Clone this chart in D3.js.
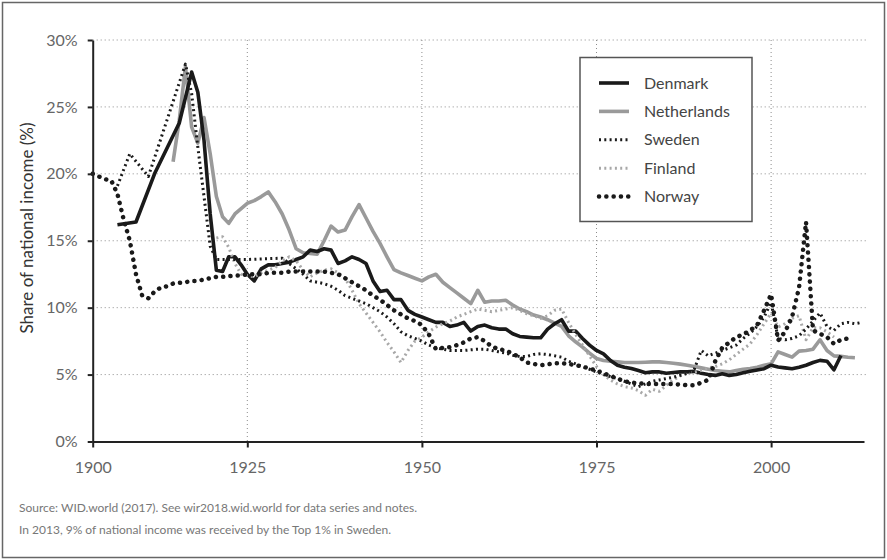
<!DOCTYPE html>
<html>
<head>
<meta charset="utf-8">
<script src="https://cdn.jsdelivr.net/npm/d3@7"></script>
<style>
  html, body { margin: 0; padding: 0; background: #fff; }
  svg { display: block; font-family: Lato, "Open Sans", sans-serif; }
</style>
</head>
<body>
<svg id="chart" width="887" height="560"></svg>
<script>
// Top 1% income share, Nordic countries and the Netherlands (% of national income)
const denmarkYears = [1904,1907,1910,1914,1916,1917,1918,1919,1920,1921,1922,1923,1924,1925,1926,1927,1928,1929,1930,1931,1932,1933,1934,1935,1936,1937,1938,1939,1940,1941,1942,1943,1944,1945,1946,1947,1948,1949,1950,1951,1952,1953,1954,1955,1956,1957,1958,1959,1960,1961,1962,1963,1964,1965,1966,1967,1968,1969,1970,1971,1972,1973,1974,1975,1976,1977,1978,1979,1980,1981,1982,1983,1984,1985,1986,1987,1988,1989,1990,1991,1992,1993,1994,1995,1996,1997,1998,1999,2000,2001,2002,2003,2004,2005,2006,2007,2008,2009,2010];
const denmarkShare = [16.2,16.4,20.0,23.8,27.6,26.1,22.5,17.0,12.8,12.7,13.8,13.8,13.2,12.5,12.0,12.9,13.2,13.2,13.3,13.4,13.6,13.8,14.3,14.2,14.4,14.3,13.3,13.5,13.8,13.6,13.3,12.0,11.2,11.3,10.6,10.6,9.8,9.5,9.3,9.1,8.9,8.9,8.6,8.7,8.9,8.25,8.6,8.7,8.5,8.4,8.4,8.05,7.85,7.8,7.75,7.75,8.4,8.8,9.1,8.25,8.25,7.7,7.2,6.8,6.55,6.05,5.7,5.55,5.45,5.3,5.14,5.2,5.2,5.1,5.15,5.2,5.2,5.24,5.1,5.0,4.94,5.06,4.94,5.0,5.14,5.25,5.35,5.44,5.7,5.57,5.5,5.44,5.55,5.7,5.9,6.06,6.0,5.36,6.43];

const netherlandsYears = [1913,1914,1915,1916,1917,1918,1919,1920,1921,1922,1923,1924,1925,1926,1927,1928,1929,1930,1931,1932,1933,1934,1935,1936,1937,1938,1939,1940,1941,1942,1943,1944,1945,1946,1947,1948,1949,1950,1951,1952,1953,1954,1955,1956,1957,1958,1959,1960,1961,1962,1963,1964,1965,1966,1967,1968,1969,1970,1971,1972,1973,1974,1975,1976,1977,1978,1979,1980,1981,1982,1983,1984,1985,1986,1987,1988,1989,1990,1991,1992,1993,1994,1995,1996,1997,1998,1999,2000,2001,2002,2003,2004,2005,2006,2007,2008,2009,2010,2011,2012];
const netherlandsShare = [20.9,24.0,28.0,23.5,22.3,24.2,21.5,18.3,16.8,16.3,17.0,17.4,17.8,18.0,18.3,18.65,17.9,17.0,15.8,14.4,14.1,14.05,14.0,15.0,16.1,15.65,15.8,16.8,17.7,16.7,15.7,14.8,13.8,12.85,12.6,12.4,12.2,12.0,12.3,12.5,11.9,11.5,11.1,10.7,10.3,11.3,10.4,10.5,10.5,10.55,10.2,9.9,9.7,9.45,9.3,9.1,8.85,8.6,7.9,7.45,7.05,6.6,6.2,6.05,6.0,5.95,5.9,5.9,5.9,5.92,5.95,5.95,5.9,5.85,5.78,5.7,5.6,5.5,5.4,5.3,5.25,5.2,5.3,5.4,5.45,5.55,5.7,5.8,6.7,6.5,6.3,6.75,6.8,6.9,7.6,6.8,6.4,6.36,6.3,6.26];

const swedenYears = [1904,1906,1909,1915,1916,1917,1918,1919,1920,1925,1930,1931,1932,1933,1934,1935,1936,1937,1938,1939,1940,1941,1942,1943,1944,1945,1946,1947,1948,1949,1950,1951,1952,1953,1954,1955,1956,1957,1958,1959,1960,1961,1962,1963,1964,1965,1966,1967,1968,1969,1970,1971,1972,1973,1974,1975,1976,1977,1978,1979,1980,1981,1982,1983,1984,1985,1986,1987,1988,1989,1990,1991,1992,1993,1994,1995,1996,1997,1998,1999,2000,2001,2002,2003,2004,2005,2006,2007,2008,2009,2010,2011,2012,2013];
const swedenShare = [19.1,21.5,19.8,28.2,26.0,22.0,18.3,14.6,13.6,13.6,13.7,13.3,12.9,12.5,12.0,11.9,11.8,11.6,11.3,10.9,10.7,10.5,10.3,10.0,9.7,9.3,8.8,8.2,7.9,7.7,7.5,7.2,7.0,6.9,6.8,6.8,6.8,6.85,6.9,6.9,6.8,6.7,6.6,6.45,6.35,6.35,6.5,6.55,6.5,6.4,6.3,6.0,5.8,5.6,5.4,5.2,5.0,4.85,4.7,4.5,4.3,4.1,4.3,4.5,4.6,4.7,4.8,4.95,5.1,5.4,6.8,6.4,6.6,6.8,7.0,7.2,7.7,8.1,8.6,9.3,10.4,7.7,7.6,7.7,7.9,8.4,9.0,9.6,8.6,8.3,8.8,8.9,8.8,8.9];

const finlandYears = [1920,1921,1922,1923,1924,1925,1926,1927,1928,1929,1930,1931,1932,1933,1934,1935,1936,1937,1938,1939,1940,1941,1942,1943,1944,1945,1946,1947,1948,1949,1950,1951,1952,1953,1954,1955,1956,1957,1958,1959,1960,1961,1962,1963,1964,1965,1966,1967,1968,1969,1970,1971,1972,1973,1974,1975,1976,1977,1978,1979,1980,1981,1982,1983,1984,1985,1986,1987,1988,1989,1990,1991,1992,1993,1994,1995,1996,1997,1998,1999,2000,2001,2002,2003,2004,2005,2006,2007,2008,2009];
const finlandShare = [15.2,15.3,14.5,13.3,12.5,12.4,12.3,12.6,12.8,13.0,13.5,13.8,13.5,12.8,12.3,12.6,12.8,12.9,12.6,12.2,11.3,10.3,9.6,8.9,8.2,7.4,6.7,5.9,6.8,7.5,7.8,8.2,8.55,8.8,9.0,9.3,9.5,9.7,9.9,9.8,9.7,9.8,9.9,10.0,9.8,9.55,9.4,9.2,9.4,9.8,9.9,8.9,8.0,7.2,6.4,5.6,5.0,4.6,4.3,4.1,4.0,3.8,3.45,3.9,3.75,4.2,4.6,4.9,5.1,5.2,5.3,5.5,5.6,5.8,6.1,6.5,6.9,7.3,8.0,8.8,9.6,8.55,8.8,9.2,9.4,7.6,8.5,8.5,8.2,7.8];

const norwayYears = [1900,1901,1902,1903,1904,1905,1906,1907,1908,1909,1910,1911,1912,1913,1914,1915,1916,1917,1918,1919,1920,1921,1922,1923,1924,1925,1926,1927,1928,1929,1930,1931,1932,1933,1934,1935,1936,1937,1938,1939,1940,1941,1942,1943,1944,1945,1946,1947,1948,1949,1950,1951,1952,1953,1954,1955,1956,1957,1958,1959,1960,1961,1962,1963,1964,1965,1966,1967,1968,1969,1970,1971,1972,1973,1974,1975,1976,1977,1978,1979,1980,1981,1982,1983,1984,1985,1986,1987,1988,1989,1990,1991,1992,1993,1994,1995,1996,1997,1998,1999,2000,2001,2002,2003,2004,2005,2006,2007,2008,2009,2010,2011];
const norwayShare = [20.0,19.8,19.6,19.5,18.5,16.6,15.0,12.5,10.9,10.7,11.2,11.5,11.6,11.8,11.85,11.9,12.0,12.0,12.1,12.2,12.3,12.3,12.35,12.4,12.4,12.5,12.5,12.5,12.6,12.6,12.6,12.7,12.7,12.7,12.7,12.7,12.7,12.6,12.5,12.2,11.9,11.6,11.3,10.9,10.6,10.2,9.8,9.5,9.2,9.0,8.7,8.0,6.9,7.0,7.05,7.2,7.4,7.7,7.8,7.5,7.1,6.9,6.8,6.55,6.3,5.9,5.8,5.7,5.76,5.85,5.85,5.8,5.7,5.6,5.45,5.3,5.1,4.9,4.7,4.5,4.4,4.35,4.3,4.3,4.3,4.3,4.3,4.25,4.2,4.2,4.4,4.6,6.0,7.0,7.4,7.8,8.0,8.3,8.7,9.8,11.0,7.55,8.2,9.3,11.5,16.4,8.3,8.05,7.8,7.3,7.6,7.7];

const yTicks = [0, 5, 10, 15, 20, 25, 30];
const xTicks = [1900, 1925, 1950, 1975, 2000];
const gridYears = [1925, 1950, 1975, 2000];

const series = [
  { name: "Netherlands", years: netherlandsYears, values: netherlandsShare, color: "#9a9a9a", width: 3.6, dash: null, cap: "butt" },
  { name: "Denmark", years: denmarkYears, values: denmarkShare, color: "#1a1a1a", width: 3.6, dash: null, cap: "butt" },
  { name: "Finland", years: finlandYears, values: finlandShare, color: "#a8a8a8", width: 3, dash: "2,3.3", cap: "butt" },
  { name: "Sweden", years: swedenYears, values: swedenShare, color: "#1a1a1a", width: 3, dash: "2,3.3", cap: "butt" },
  { name: "Norway", years: norwayYears, values: norwayShare, color: "#1a1a1a", width: 4.5, dash: "0.1,7.2", cap: "round" }
];
const legendOrder = ["Denmark", "Netherlands", "Sweden", "Finland", "Norway"];

const svg = d3.select("#chart");

// outer frame
svg.append("rect")
  .attr("x", 2.5).attr("y", 2.5).attr("width", 882).attr("height", 555)
  .attr("fill", "#fff").attr("stroke", "#666").attr("stroke-width", 1.5);

// the early decades are compressed on the time axis
const x = d3.scaleLinear().domain([1900, 1925, 2013.3]).range([92.7, 247.3, 864]);
const y = d3.scaleLinear().domain([0, 30]).range([441.5, 40]);

// dotted grid
const grid = svg.append("g").attr("stroke", "#8c8c8c").attr("stroke-width", 1).attr("stroke-dasharray", "1,3");
grid.selectAll("line.h").data(yTicks.filter(d => d > 0)).join("line")
  .attr("class", "h")
  .attr("x1", x(1900)).attr("x2", 866)
  .attr("y1", d => y(d)).attr("y2", d => y(d));
grid.selectAll("line.v").data(gridYears).join("line")
  .attr("class", "v")
  .attr("x1", d => x(d)).attr("x2", d => x(d))
  .attr("y1", y(30)).attr("y2", y(0));

// series lines
const line = d3.line()
  .x(d => x(d[0]))
  .y(d => y(d[1]));

svg.append("g").selectAll("path").data(series).join("path")
  .attr("d", s => line(s.years.map((yr, i) => [yr, s.values[i]])))
  .attr("fill", "none")
  .attr("stroke", s => s.color)
  .attr("stroke-width", s => s.width)
  .attr("stroke-dasharray", s => s.dash)
  .attr("stroke-linecap", s => s.cap)
  .attr("stroke-linejoin", "round");

// axes
const yAxis = svg.append("g")
  .attr("transform", `translate(${x(1900)},0)`)
  .call(d3.axisLeft(y).tickValues(yTicks).tickFormat(d => d + "%").tickSize(5).tickSizeOuter(0).tickPadding(10));
const xAxis = svg.append("g")
  .attr("transform", `translate(0,${y(0)})`)
  .call(d3.axisBottom(x).tickValues(xTicks).tickFormat(d3.format("d")).tickSize(6).tickSizeOuter(0).tickPadding(14));

[yAxis, xAxis].forEach(g => {
  g.select(".domain").attr("stroke", "#222").attr("stroke-width", 2);
  g.selectAll(".tick line").attr("stroke", "#222").attr("stroke-width", 2);
  g.selectAll(".tick text").attr("fill", "#666").attr("font-family", "Lato, sans-serif");
});
yAxis.selectAll(".tick text").attr("font-size", 16);
xAxis.selectAll(".tick text").attr("font-size", 16);

// y-axis title
svg.append("text")
  .attr("transform", "translate(33,228) rotate(-90)")
  .attr("text-anchor", "middle")
  .attr("fill", "#333")
  .attr("font-size", 17)
  .text("Share of national income (%)");

// legend
const legend = svg.append("g");
legend.append("rect")
  .attr("x", 580).attr("y", 57.5).attr("width", 172).attr("height", 164)
  .attr("fill", "#fff").attr("stroke", "#555").attr("stroke-width", 1.5);
const bySeries = new Map(series.map(s => [s.name, s]));
const rows = legend.selectAll("g.row").data(legendOrder).join("g")
  .attr("class", "row")
  .attr("transform", (d, i) => `translate(0,${83 + i * 28.4})`);
rows.append("line")
  .attr("x1", 599).attr("x2", 629).attr("y1", 0).attr("y2", 0)
  .attr("stroke", d => bySeries.get(d).color)
  .attr("stroke-width", d => bySeries.get(d).width)
  .attr("stroke-dasharray", d => bySeries.get(d).dash)
  .attr("stroke-linecap", d => bySeries.get(d).cap);
rows.append("text")
  .attr("x", 644).attr("y", 0).attr("dy", "0.35em")
  .attr("fill", "#444")
  .attr("font-size", 16)
  .text(d => d);

// notes
const notes = [
  "Source: WID.world (2017). See wir2018.wid.world for data series and notes.",
  "In 2013, 9% of national income was received by the Top 1% in Sweden."
];
svg.append("g").selectAll("text").data(notes).join("text")
  .attr("x", 19).attr("y", (d, i) => 512 + i * 22)
  .attr("fill", "#777")
  .attr("font-size", 12)
  .text(d => d);
</script>
</body>
</html>
